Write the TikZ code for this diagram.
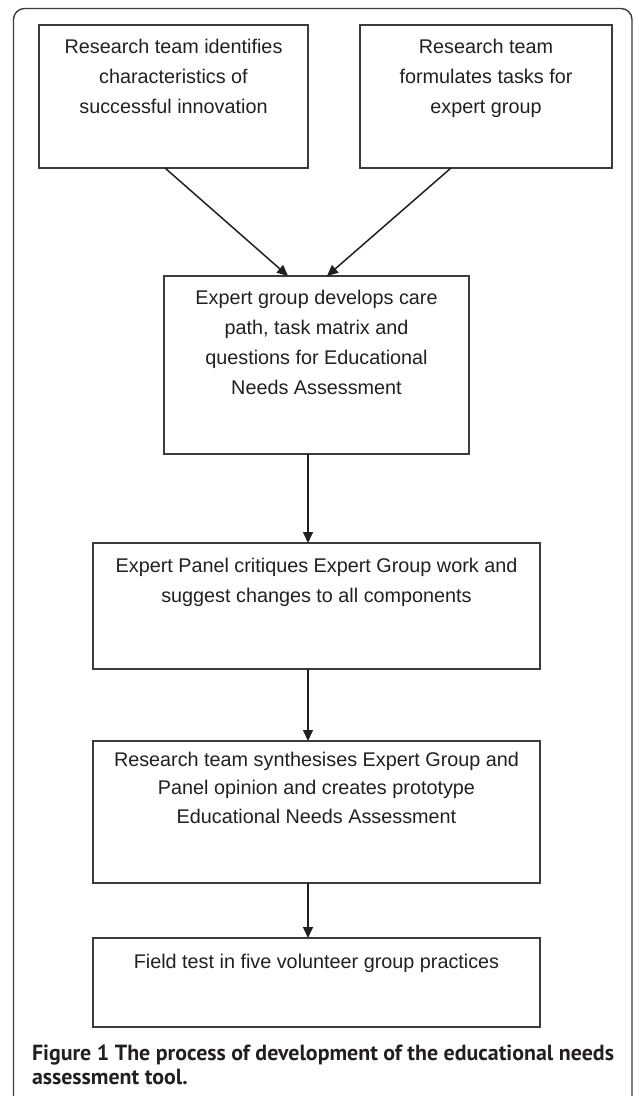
\documentclass[tikz,border=0pt]{standalone}
\usepackage{fontspec}
\setmainfont{Liberation Sans}
\newfontfamily\captionfont{PT Sans}
\usetikzlibrary{arrows.meta}
\definecolor{c231f20}{RGB}{35,31,32}
\definecolor{c3c3c3c}{RGB}{60,60,60}
\newcommand{\stagetext}[4]{\parbox[c][#1][t]{#2}{\centering\vspace*{#3}#4\par}}

\begin{document}
\begin{tikzpicture}[y=1pt, x=1pt, inner sep=0pt, outer sep=0pt,
  stage/.style={draw=c3c3c3c, line width=1.4pt, text=c231f20, font=\fontsize{19.8}{30}\selectfont},
  flow/.style={draw=c231f20, line width=1.5pt, -{Triangle[length=11pt,width=10pt]}}]
  \useasboundingbox (0,0) rectangle (633,-1096);

  % frame, open at the foot
  \path[draw=c3c3c3c, line width=1.4pt, rounded corners=11pt] (13.5,-1096) -- (13.5,-8.5) -- (632,-8.5) -- (632,-1096);



  \node[stage] (identify) at (173.5,-96.5){\stagetext{143pt}{269pt}{14.5pt}{Research team identifies\\characteristics of\\successful innovation}};



  \node[stage] (formulate) at (486,-96.5){\stagetext{143pt}{252pt}{14.5pt}{Research team\\formulates tasks for\\expert group}};



  \node[stage] (develop) at (316.5,-365){\stagetext{178pt}{305pt}{14pt}{Expert group develops care\\path, task matrix and\\questions for Educational\\Needs Assessment}};



  \node[stage] (critique) at (316.5,-606){\stagetext{126pt}{447pt}{15.5pt}{Expert Panel critiques Expert Group work and\\suggest changes to all components}};



  \node[stage, font=\fontsize{19.8}{28.5}\selectfont] (synthesise) at (316.5,-812){\stagetext{142pt}{447pt}{11pt}{Research team synthesises Expert Group and\\Panel opinion and creates prototype\\Educational Needs Assessment}};



  \node[stage] (fieldtest) at (316.5,-982.5){\stagetext{89pt}{447pt}{16.5pt}{Field test in five volunteer group practices}};



  \path[flow] ([xshift=-8.5pt]identify.south) -- ([xshift=-28.5pt]develop.north);
  \path[flow] ([xshift=-35pt]formulate.south) -- ([xshift=10.5pt]develop.north);
  \path[flow] ([xshift=-8.5pt]develop.south) -- ([xshift=-8.5pt]critique.north);
  \path[flow] ([xshift=-8.5pt]critique.south) -- ([xshift=-8.5pt]synthesise.north);
  \path[flow] ([xshift=-8.5pt]synthesise.south) -- ([xshift=-8.5pt]fieldtest.north);



  \node[anchor=base west, align=left, text=c231f20, font=\captionfont\bfseries\fontsize{21.9}{24}\selectfont] (caption) at (32,-1084){Figure 1 The process of development of the educational needs\\assessment tool.};




\end{tikzpicture}
\end{document}
